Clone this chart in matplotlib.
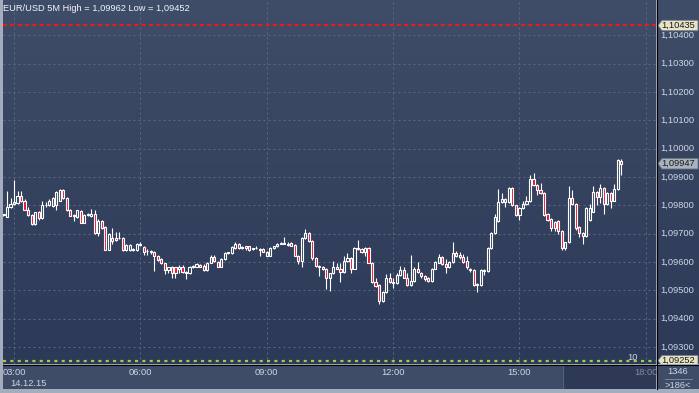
"""EUR/USD 5M candlestick chart, terminal style."""

import numpy as np
import matplotlib
matplotlib.use("Agg")
import matplotlib.pyplot as plt
from matplotlib.colors import LinearSegmentedColormap
from matplotlib.lines import Line2D
from matplotlib.patches import Polygon

W, H = 699, 393

open_ = [
    1.09766, 1.09760, 1.09794, 1.09805, 1.09809, 1.09834, 1.09815, 1.09785, 1.09766, 1.09733,
    1.09776, 1.09754, 1.09800, 1.09800, 1.09797, 1.09800, 1.09817, 1.09855, 1.09825, 1.09784,
    1.09766, 1.09758, 1.09779, 1.09738, 1.09766, 1.09764, 1.09770, 1.09702, 1.09746, 1.09723,
    1.09643, 1.09684, 1.09684, 1.09684, 1.09684, 1.09642, 1.09642, 1.09646, 1.09642, 1.09660,
    1.09654, 1.09640, 1.09640, 1.09634, 1.09622, 1.09610, 1.09596, 1.09572, 1.09581, 1.09581,
    1.09575, 1.09584, 1.09565, 1.09560, 1.09584, 1.09584, 1.09589, 1.09586, 1.09572, 1.09598,
    1.09616, 1.09601, 1.09584, 1.09610, 1.09631, 1.09631, 1.09648, 1.09663, 1.09649, 1.09649,
    1.09655, 1.09646, 1.09648, 1.09646, 1.09646, 1.09622, 1.09622, 1.09649, 1.09655, 1.09665,
    1.09665, 1.09660, 1.09666, 1.09660, 1.09622, 1.09602, 1.09684, 1.09702, 1.09673, 1.09613,
    1.09586, 1.09584, 1.09575, 1.09542, 1.09560, 1.09584, 1.09577, 1.09566, 1.09604, 1.09613,
    1.09577, 1.09648, 1.09646, 1.09634, 1.09648, 1.09598, 1.09530, 1.09518, 1.09462, 1.09494,
    1.09545, 1.09530, 1.09525, 1.09553, 1.09572, 1.09545, 1.09518, 1.09533, 1.09577, 1.09563,
    1.09551, 1.09545, 1.09533, 1.09577, 1.09598, 1.09616, 1.09592, 1.09581, 1.09601, 1.09631,
    1.09624, 1.09616, 1.09604, 1.09575, 1.09572, 1.09518, 1.09518, 1.09572, 1.09569, 1.09648,
    1.09702, 1.09746, 1.09811, 1.09821, 1.09811, 1.09861, 1.09800, 1.09766, 1.09790, 1.09805,
    1.09814, 1.09892, 1.09873, 1.09853, 1.09844, 1.09770, 1.09752, 1.09743, 1.09746, 1.09711,
    1.09648, 1.09669, 1.09825, 1.09805, 1.09723, 1.09702, 1.09691, 1.09750, 1.09778, 1.09847,
    1.09829, 1.09861, 1.09805, 1.09844, 1.09817, 1.09859, 1.09958,
]
high = [
    1.09771, 1.09850, 1.09825, 1.09891, 1.09849, 1.09850, 1.09823, 1.09794, 1.09769, 1.09778,
    1.09779, 1.09816, 1.09811, 1.09823, 1.09831, 1.09849, 1.09859, 1.09859, 1.09828, 1.09788,
    1.09770, 1.09784, 1.09782, 1.09770, 1.09772, 1.09788, 1.09784, 1.09752, 1.09750, 1.09726,
    1.09702, 1.09719, 1.09707, 1.09705, 1.09687, 1.09663, 1.09663, 1.09648, 1.09667, 1.09669,
    1.09657, 1.09646, 1.09643, 1.09640, 1.09624, 1.09615, 1.09598, 1.09584, 1.09586, 1.09584,
    1.09589, 1.09589, 1.09569, 1.09586, 1.09589, 1.09596, 1.09592, 1.09592, 1.09601, 1.09624,
    1.09624, 1.09604, 1.09613, 1.09634, 1.09636, 1.09655, 1.09669, 1.09666, 1.09657, 1.09658,
    1.09658, 1.09650, 1.09655, 1.09648, 1.09648, 1.09640, 1.09652, 1.09657, 1.09668, 1.09669,
    1.09687, 1.09672, 1.09669, 1.09663, 1.09624, 1.09687, 1.09717, 1.09705, 1.09676, 1.09616,
    1.09589, 1.09586, 1.09578, 1.09563, 1.09604, 1.09598, 1.09598, 1.09622, 1.09631, 1.09616,
    1.09652, 1.09679, 1.09649, 1.09652, 1.09652, 1.09601, 1.09545, 1.09521, 1.09498, 1.09557,
    1.09560, 1.09545, 1.09560, 1.09586, 1.09581, 1.09563, 1.09624, 1.09581, 1.09601, 1.09566,
    1.09555, 1.09548, 1.09580, 1.09604, 1.09630, 1.09620, 1.09610, 1.09605, 1.09672, 1.09640,
    1.09634, 1.09628, 1.09620, 1.09578, 1.09575, 1.09525, 1.09575, 1.09575, 1.09652, 1.09705,
    1.09770, 1.09859, 1.09844, 1.09825, 1.09864, 1.09864, 1.09803, 1.09793, 1.09815, 1.09832,
    1.09906, 1.09915, 1.09876, 1.09880, 1.09847, 1.09773, 1.09755, 1.09746, 1.09750, 1.09714,
    1.09672, 1.09867, 1.09853, 1.09808, 1.09726, 1.09705, 1.09793, 1.09805, 1.09867, 1.09850,
    1.09876, 1.09864, 1.09847, 1.09847, 1.09874, 1.09962, 1.09962,
]
low = [
    1.09762, 1.09758, 1.09791, 1.09803, 1.09805, 1.09812, 1.09782, 1.09764, 1.09731, 1.09731,
    1.09750, 1.09752, 1.09794, 1.09797, 1.09795, 1.09782, 1.09815, 1.09823, 1.09779, 1.09762,
    1.09746, 1.09756, 1.09736, 1.09736, 1.09762, 1.09758, 1.09700, 1.09691, 1.09717, 1.09641,
    1.09641, 1.09663, 1.09675, 1.09681, 1.09640, 1.09640, 1.09640, 1.09640, 1.09640, 1.09655,
    1.09624, 1.09624, 1.09628, 1.09569, 1.09604, 1.09592, 1.09557, 1.09563, 1.09545, 1.09545,
    1.09560, 1.09563, 1.09539, 1.09558, 1.09578, 1.09581, 1.09582, 1.09569, 1.09570, 1.09596,
    1.09601, 1.09581, 1.09581, 1.09608, 1.09628, 1.09628, 1.09646, 1.09646, 1.09646, 1.09643,
    1.09640, 1.09643, 1.09646, 1.09622, 1.09634, 1.09620, 1.09620, 1.09646, 1.09652, 1.09663,
    1.09663, 1.09657, 1.09655, 1.09620, 1.09592, 1.09584, 1.09681, 1.09670, 1.09608, 1.09581,
    1.09551, 1.09572, 1.09504, 1.09498, 1.09557, 1.09575, 1.09531, 1.09563, 1.09601, 1.09560,
    1.09575, 1.09643, 1.09631, 1.09622, 1.09595, 1.09527, 1.09512, 1.09452, 1.09458, 1.09491,
    1.09527, 1.09510, 1.09521, 1.09549, 1.09542, 1.09515, 1.09516, 1.09530, 1.09560, 1.09545,
    1.09533, 1.09530, 1.09530, 1.09575, 1.09595, 1.09589, 1.09560, 1.09578, 1.09598, 1.09617,
    1.09610, 1.09595, 1.09577, 1.09566, 1.09515, 1.09494, 1.09515, 1.09553, 1.09566, 1.09645,
    1.09699, 1.09743, 1.09808, 1.09795, 1.09808, 1.09797, 1.09762, 1.09750, 1.09787, 1.09802,
    1.09811, 1.09870, 1.09835, 1.09841, 1.09762, 1.09746, 1.09711, 1.09711, 1.09700, 1.09643,
    1.09643, 1.09666, 1.09800, 1.09714, 1.09687, 1.09663, 1.09687, 1.09746, 1.09775, 1.09800,
    1.09808, 1.09771, 1.09800, 1.09790, 1.09814, 1.09855, 1.09906,
]
close = [
    1.09769, 1.09794, 1.09805, 1.09811, 1.09834, 1.09815, 1.09785, 1.09766, 1.09733, 1.09776,
    1.09754, 1.09800, 1.09802, 1.09817, 1.09825, 1.09847, 1.09853, 1.09825, 1.09782, 1.09764,
    1.09764, 1.09782, 1.09738, 1.09766, 1.09769, 1.09770, 1.09702, 1.09746, 1.09720, 1.09643,
    1.09699, 1.09675, 1.09679, 1.09684, 1.09642, 1.09660, 1.09660, 1.09642, 1.09663, 1.09663,
    1.09636, 1.09640, 1.09634, 1.09622, 1.09608, 1.09596, 1.09572, 1.09581, 1.09563, 1.09563,
    1.09584, 1.09565, 1.09563, 1.09584, 1.09586, 1.09592, 1.09584, 1.09572, 1.09598, 1.09616,
    1.09604, 1.09584, 1.09610, 1.09631, 1.09634, 1.09652, 1.09663, 1.09649, 1.09654, 1.09655,
    1.09643, 1.09648, 1.09649, 1.09643, 1.09637, 1.09637, 1.09649, 1.09655, 1.09665, 1.09666,
    1.09666, 1.09663, 1.09657, 1.09622, 1.09602, 1.09684, 1.09702, 1.09673, 1.09613, 1.09586,
    1.09584, 1.09575, 1.09542, 1.09560, 1.09584, 1.09577, 1.09566, 1.09604, 1.09613, 1.09577,
    1.09648, 1.09646, 1.09634, 1.09648, 1.09598, 1.09530, 1.09516, 1.09462, 1.09494, 1.09545,
    1.09530, 1.09525, 1.09553, 1.09572, 1.09545, 1.09518, 1.09533, 1.09577, 1.09565, 1.09549,
    1.09539, 1.09533, 1.09577, 1.09601, 1.09616, 1.09592, 1.09581, 1.09601, 1.09631, 1.09620,
    1.09616, 1.09601, 1.09581, 1.09572, 1.09518, 1.09521, 1.09572, 1.09569, 1.09648, 1.09702,
    1.09758, 1.09811, 1.09821, 1.09811, 1.09861, 1.09800, 1.09766, 1.09790, 1.09805, 1.09814,
    1.09892, 1.09873, 1.09853, 1.09844, 1.09766, 1.09750, 1.09719, 1.09719, 1.09711, 1.09648,
    1.09669, 1.09825, 1.09805, 1.09719, 1.09702, 1.09691, 1.09790, 1.09790, 1.09847, 1.09829,
    1.09861, 1.09805, 1.09844, 1.09817, 1.09859, 1.09959, 1.09947,
]

price_ticks = [1.093, 1.094, 1.095, 1.096, 1.097, 1.098, 1.099,
               1.100, 1.101, 1.102, 1.103, 1.104]
time_idx = [3, 39, 75, 111, 147, 183]
time_labels = ["03:00", "06:00", "09:00", "12:00", "15:00", "18:00"]
day_label = "14.12.15"
title = "EUR/USD 5M High = 1,09962 Low = 1,09452"
top_level = 1.10435
bottom_level = 1.09252
last_price = 1.09947
bar_count = "1346"
shift_label = ">186<"
volume_mark = "10"

FONT = "Liberation Sans"
FS = 6.7
TXT = "#cfd7e6"
GRID = "#5a6882"
RED = "#e8102a"
XLIM = (-0.14, 185.9)
YLIM = (1.0924, 1.10525)


def box(x0, y0, x1, y1):
    return [x0 / W, 1 - y1 / H, (x1 - x0) / W, (y1 - y0) / H]


def fmt(p):
    return f"{p:.5f}".replace(".", ",")


def gradient(ax, top, bottom):
    cmap = LinearSegmentedColormap.from_list("bg", [bottom, top])
    ax.imshow(np.linspace(0, 1, 256).reshape(-1, 1), cmap=cmap, aspect="auto",
              extent=(0, 1, 0, 1), transform=ax.transAxes, origin="lower", zorder=0)


def tag(ax, y, text, face, h=0.00037):
    pts = [(1, y), (5, y + h / 2), (41, y + h / 2), (41, y - h / 2), (5, y - h / 2)]
    ax.add_patch(Polygon(pts, closed=True, facecolor=face, edgecolor="#6c7484",
                         lw=0.6, zorder=3))
    ax.text(4.5, y, text, ha="left", va="center", fontsize=FS, family=FONT,
            color="#1a1a1a", zorder=4)


fig = plt.figure(figsize=(W / 100, H / 100), dpi=100, facecolor="#a3adbd")

# main price area
ax = fig.add_axes(box(3, 0, 656, 364))
ax.set_axis_off()
gradient(ax, "#3f4d68", "#2c3957")
ax.hlines(price_ticks, XLIM[0], XLIM[1], color=GRID, lw=0.72, linestyles=(0, (2, 3)), zorder=1)
ax.vlines(time_idx, YLIM[0], YLIM[1], color=GRID, lw=0.72, linestyles=(0, (2, 3)), zorder=1)
ax.axhline(top_level, color="#ee1620", lw=1.5, ls=(0, (2, 1.5)), zorder=2)
ax.axhline(bottom_level, color="#9ccc48", lw=1.6, ls=(0, (1.4, 1.9)), zorder=2)

o = np.array(open_)
c = np.array(close)
x = np.arange(len(o))
body_lo = np.minimum(o, c)
body_hi = np.maximum(o, c)
ax.vlines(x, body_hi, high, color="white", lw=0.8, zorder=3)
ax.vlines(x, low, body_lo, color="white", lw=0.8, zorder=3)
faces = [RED if cc < oo else "none" for oo, cc in zip(open_, close)]
ax.bar(x, body_hi - body_lo, bottom=body_lo, width=0.6, color=faces,
       edgecolor="white", lw=0.8, zorder=4)
ax.set_xlim(*XLIM)
ax.set_ylim(*YLIM)

fig.text(3 / W, 1 - 8.5 / H, title, ha="left", va="center", fontsize=FS,
         family=FONT, color="#f2f5fa")
fig.text(633 / W, 1 - 357 / H, volume_mark, ha="center", va="center",
         fontsize=FS, family=FONT, color=TXT)

# price scale
axr = fig.add_axes(box(657, 0, 699, 364))
axr.set_axis_off()
gradient(axr, "#3f4d68", "#2c3957")
axr.set_xlim(0, 42)
axr.set_ylim(*YLIM)
for p in price_ticks:
    axr.text(3, p, fmt(p), ha="left", va="center", fontsize=FS, family=FONT, color=TXT)
tag(axr, top_level, fmt(top_level), "#e6e3c6")
tag(axr, last_price, fmt(last_price), "#aab2be")
tag(axr, bottom_level, fmt(bottom_level), "#e6e3c6")

# time scale
axb = fig.add_axes(box(3, 365, 656, 389))
axb.set_axis_off()
axb.add_patch(plt.Rectangle((0, 0), 1, 1, transform=axb.transAxes,
                            facecolor="#3e4c67", zorder=0))
axb.set_xlim(*XLIM)
axb.set_ylim(24, 0)
axb.axvspan(159.4, XLIM[1], color="#2e3a55", zorder=1)
axb.axvline(159.4, color="#56627a", lw=0.8, zorder=2)
for i, lab in zip(time_idx, time_labels):
    if i == time_idx[0]:
        axb.text(XLIM[0], 7.5, lab, ha="left", va="center", fontsize=FS,
                 family=FONT, color=TXT)
    else:
        col = "#7f8ba0" if i > 159.4 else TXT
        axb.text(i, 7.5, lab, ha="center", va="center", fontsize=FS,
                 family=FONT, color=col)
axb.text(2, 18.5, day_label, ha="left", va="center", fontsize=FS,
         family=FONT, color=TXT)

axbr = fig.add_axes(box(657, 365, 699, 389))
axbr.set_axis_off()
axbr.add_patch(plt.Rectangle((0, 0), 1, 1, transform=axbr.transAxes,
                             facecolor="#3e4c67", zorder=0))
axbr.set_xlim(0, 42)
axbr.set_ylim(24, 0)
axbr.text(21, 7, bar_count, ha="center", va="center", fontsize=FS, family=FONT, color=TXT)
axbr.plot([8, 35], [13.5, 13.5], color="#8792a6", lw=0.6)
axbr.text(21, 20, shift_label, ha="center", va="center", fontsize=FS, family=FONT, color=TXT)

# separators
fig.add_artist(Line2D([656.5 / W] * 2, [1 - 389 / H, 1], color="black", lw=0.8,
                      transform=fig.transFigure))
fig.add_artist(Line2D([3 / W, 1], [1 - 364.5 / H] * 2, color="black", lw=0.8,
                      transform=fig.transFigure))

fig.savefig("out.png", dpi=100, facecolor=fig.get_facecolor())
plt.close(fig)
